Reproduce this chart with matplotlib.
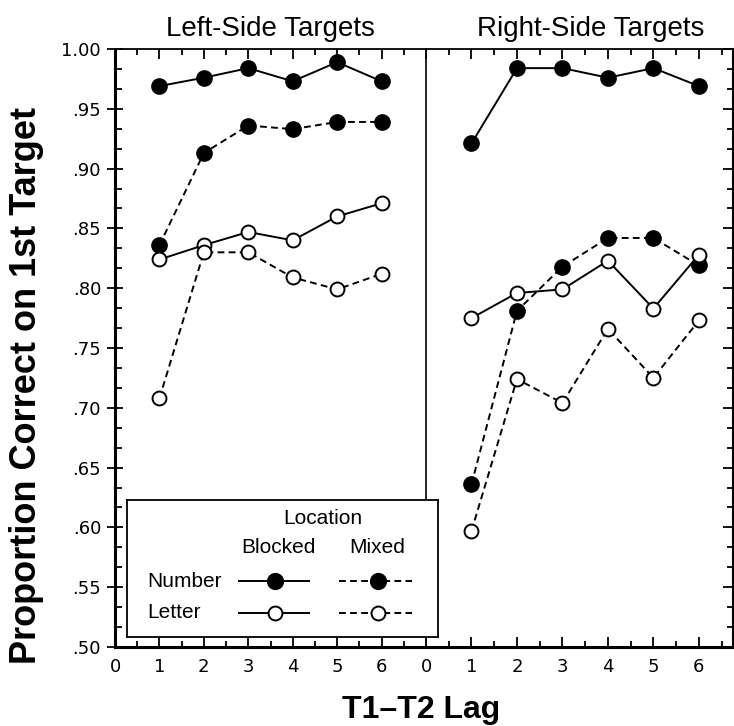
import numpy as np
import matplotlib
matplotlib.use("Agg")
import matplotlib.pyplot as plt
from matplotlib.ticker import FixedLocator, MultipleLocator

# values (proportion correct on T1)
lags = [1, 2, 3, 4, 5, 6]
left_number_blocked = [0.969, 0.976, 0.984, 0.973, 0.989, 0.973]
left_number_mixed = [0.836, 0.913, 0.936, 0.933, 0.939, 0.939]
left_letter_blocked = [0.824, 0.836, 0.847, 0.840, 0.860, 0.871]
left_letter_mixed = [0.708, 0.830, 0.830, 0.809, 0.799, 0.812]
right_number_blocked = [0.921, 0.984, 0.984, 0.976, 0.984, 0.969]
right_number_mixed = [0.636, 0.781, 0.818, 0.842, 0.842, 0.819]
right_letter_blocked = [0.775, 0.796, 0.799, 0.823, 0.783, 0.828]
right_letter_mixed = [0.597, 0.724, 0.704, 0.766, 0.725, 0.773]

y_ticks = [0.50, 0.55, 0.60, 0.65, 0.70, 0.75, 0.80, 0.85, 0.90, 0.95, 1.00]
y_ticklabels = [".50", ".55", ".60", ".65", ".70", ".75", ".80", ".85", ".90", ".95", "1.00"]
x_ticks = [0, 1, 2, 3, 4, 5, 6]

W, H = 734, 726
SANS = ["Liberation Sans", "DejaVu Sans"]
TICKFONT = "DejaVu Sans"
DASH = (3.5, 2.2)


def px_rect(x0, y0, x1, y1):
    return [x0 / W, 1 - y1 / H, (x1 - x0) / W, (y1 - y0) / H]


def draw_series(ax, y, filled, dashed):
    kw = dict(color="black", lw=1.4, marker="o", zorder=3, clip_on=False)
    if filled:
        kw.update(markersize=11, markerfacecolor="black", markeredgecolor="black")
    else:
        kw.update(markersize=10, markerfacecolor="white", markeredgecolor="black",
                  markeredgewidth=1.4)
    if dashed:
        kw["dashes"] = DASH
    ax.plot(lags, y, **kw)


fig = plt.figure(figsize=(W / 100, H / 100), dpi=100)
ax_l = fig.add_axes(px_rect(115, 49, 426, 647))
ax_r = fig.add_axes(px_rect(426, 49, 733, 647))
ax_r.patch.set_visible(False)

draw_series(ax_l, left_number_blocked, True, False)
draw_series(ax_l, left_number_mixed, True, True)
draw_series(ax_l, left_letter_blocked, False, False)
draw_series(ax_l, left_letter_mixed, False, True)
draw_series(ax_r, right_number_blocked, True, False)
draw_series(ax_r, right_number_mixed, True, True)
draw_series(ax_r, right_letter_blocked, False, False)
draw_series(ax_r, right_letter_mixed, False, True)

ax_l.set_xlim(0, 7)
ax_r.set_xlim(0, 6.75)
for ax in (ax_l, ax_r):
    ax.set_ylim(0.5, 1.0)
    ax.set_xticks(x_ticks)
    ax.set_xticklabels([str(t) for t in x_ticks], fontsize=13, family=TICKFONT)
    ax.xaxis.set_minor_locator(MultipleLocator(0.5))
    ax.tick_params(axis="x", which="both", direction="in", top=True, bottom=True,
                   width=1.3, pad=8)
    ax.tick_params(axis="x", which="major", length=7)
    ax.tick_params(axis="x", which="minor", length=4)
    ax.yaxis.set_minor_locator(FixedLocator(np.linspace(0.5, 1.0, 31)))
    ax.set_yticks(y_ticks)
    ax.spines["top"].set_linewidth(1.3)
    ax.spines["bottom"].set_linewidth(2.2)

# left panel: labelled y axis on the left
ax_l.set_yticklabels(y_ticklabels, fontsize=13, family=TICKFONT)
ax_l.tick_params(axis="y", which="both", left=True, right=False, width=1.3)
ax_l.tick_params(axis="y", which="major", direction="inout", length=12, pad=4)
ax_l.tick_params(axis="y", which="minor", direction="in", length=5)
ax_l.spines["left"].set_linewidth(2.2)
ax_l.spines["right"].set_visible(False)

# right panel: ticks on the right edge only, left spine is the divider
ax_r.tick_params(axis="y", which="both", left=False, right=True, labelleft=False,
                 direction="in", width=1.3)
ax_r.tick_params(axis="y", which="major", length=7)
ax_r.tick_params(axis="y", which="minor", length=4)
ax_r.spines["left"].set_linewidth(1.2)
ax_r.spines["right"].set_linewidth(1.5)

# titles and axis labels
fig.text(270 / W, 1 - 36 / H, "Left-Side Targets", ha="center", va="baseline",
         fontsize=20, family=SANS)
fig.text(591 / W, 1 - 36 / H, "Right-Side Targets", ha="center", va="baseline",
         fontsize=20, family=SANS)
fig.text(421 / W, 1 - 718 / H, "T1\u2013T2 Lag", ha="center", va="baseline",
         fontsize=23, fontweight="bold", family=SANS)
fig.text(27 / W, 1 - 385 / H, "Proportion Correct on 1st Target", rotation=90,
         ha="center", va="center", fontsize=26, fontweight="bold", family=SANS)

# hand-made legend box (pixel coordinates inside the box)
lg = fig.add_axes(px_rect(127, 500, 438, 637), zorder=5)
lg.set_xlim(127, 438)
lg.set_ylim(637, 500)
lg.set_xticks([])
lg.set_yticks([])
for s in lg.spines.values():
    s.set_linewidth(1.3)
lg.text(323, 518, "Location", ha="center", va="center", fontsize=15, family=SANS)
lg.text(278, 547, "Blocked", ha="center", va="center", fontsize=15, family=SANS)
lg.text(377, 547, "Mixed", ha="center", va="center", fontsize=15, family=SANS)
lg.text(147, 581, "Number", ha="left", va="center", fontsize=15, family=SANS)
lg.text(147, 612, "Letter", ha="left", va="center", fontsize=15, family=SANS)
rows = [(581, "black"), (613, "white")]
for y, face in rows:
    ms = 11 if face == "black" else 10
    lg.plot([239, 309], [y, y], color="black", lw=1.4)
    lg.plot([275], [y], marker="o", ms=ms, mfc=face, mec="black", mew=1.4)
    lg.plot([339, 412], [y, y], color="black", lw=1.4, dashes=DASH)
    lg.plot([378], [y], marker="o", ms=ms, mfc=face, mec="black", mew=1.4)

fig.savefig("out.png", dpi=100)
